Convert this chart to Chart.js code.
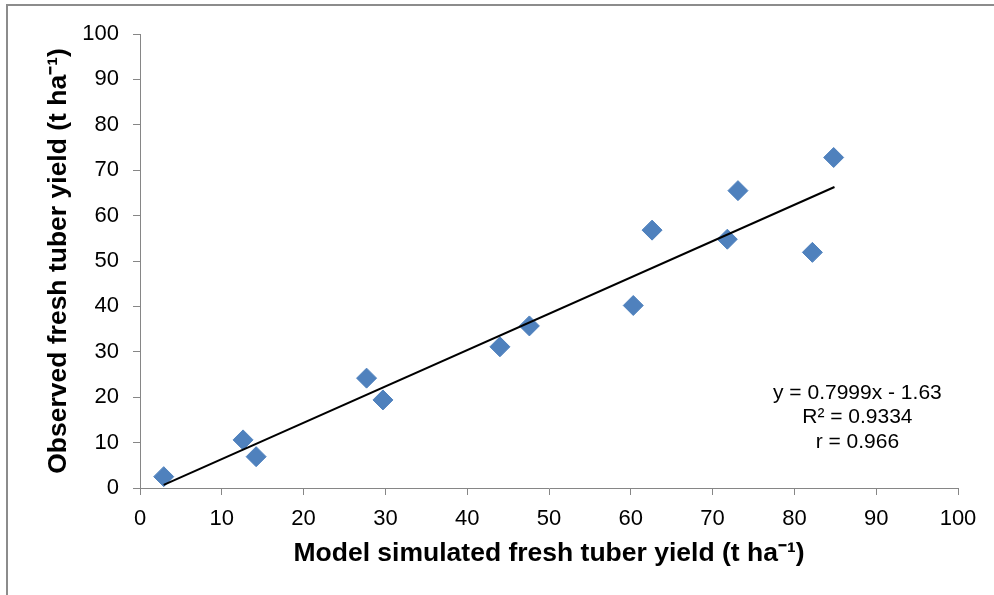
<!DOCTYPE html>
<html>
<head>
<meta charset="utf-8">
<title>Observed vs simulated fresh tuber yield</title>
<script src="https://cdn.jsdelivr.net/npm/chart.js@4.4.1/dist/chart.umd.min.js"></script>
<style>
  html, body { margin: 0; padding: 0; background: #fff; }
  #chart { display: block; }
</style>
</head>
<body>
<canvas id="chart" width="994" height="595"></canvas>
<script>
// simulated (x) and observed (y) fresh tuber yield, t/ha
var simulated = [2.9, 12.6, 14.2, 27.7, 29.7, 44.0, 47.6, 60.3, 62.6, 71.8, 73.1, 82.2, 84.8];
var observed  = [2.5, 10.6, 6.9, 24.2, 19.4, 31.1, 35.7, 40.2, 56.8, 54.8, 65.5, 51.9, 72.8];

// trendline end points as drawn in the figure
var trendX = [2.9, 84.9];
var trendY = [0.7, 66.3];

var xTicks = [0, 10, 20, 30, 40, 50, 60, 70, 80, 90, 100];
var yTicks = [0, 10, 20, 30, 40, 50, 60, 70, 80, 90, 100];

var statsLines = ['y = 0.7999x - 1.63', 'R\u00B2 = 0.9334', 'r = 0.966'];
var statsAt = { x: 87.7, y: 20.9 };

var FONT = "'Liberation Sans', Arial, sans-serif";
var AXIS_GREY = '#868686';

function points(xs, ys) {
    var out = [];
    for (var i = 0; i < xs.length; i++) {
        out.push({ x: xs[i], y: ys[i] });
    }
    return out;
}

// grey frame around the figure (only top and left edges are in view)
var framePlugin = {
    id: 'frame',
    beforeDraw: function (chart) {
        var ctx = chart.ctx;
        ctx.save();
        ctx.strokeStyle = '#8c8c8c';
        ctx.lineWidth = 2;
        ctx.beginPath();
        ctx.moveTo(7, chart.height);
        ctx.lineTo(7, 5);
        ctx.lineTo(chart.width, 5);
        ctx.stroke();
        ctx.restore();
    }
};

// regression text block
var statsPlugin = {
    id: 'stats',
    afterDatasetsDraw: function (chart) {
        var ctx = chart.ctx;
        var cx = chart.scales.x.getPixelForValue(statsAt.x);
        var cy = chart.scales.y.getPixelForValue(statsAt.y);
        ctx.save();
        ctx.font = '21px ' + FONT;
        ctx.fillStyle = '#000';
        ctx.textAlign = 'center';
        ctx.textBaseline = 'middle';
        for (var i = 0; i < statsLines.length; i++) {
            ctx.fillText(statsLines[i], cx, cy + i * 24.5);
        }
        ctx.restore();
    }
};

var chart = new Chart(document.getElementById('chart'), {
    type: 'scatter',
    data: {
        datasets: [
            {
                label: 'Observed',
                data: points(simulated, observed),
                pointStyle: 'rectRot',
                pointRadius: 10,
                pointHoverRadius: 10,
                backgroundColor: '#4F81BD',
                borderColor: '#4F81BD',
                borderWidth: 1,
                order: 2
            },
            {
                type: 'line',
                label: 'Linear',
                data: points(trendX, trendY),
                borderColor: '#000',
                borderWidth: 2,
                pointRadius: 0,
                fill: false,
                order: 1
            }
        ]
    },
    options: {
        responsive: false,
        animation: false,
        layout: { padding: { top: 34, right: 36, left: 0, bottom: 0 } },
        plugins: {
            legend: { display: false },
            tooltip: { enabled: false }
        },
        scales: {
            x: {
                type: 'linear',
                min: 0,
                max: 100,
                afterBuildTicks: function (axis) {
                    axis.ticks = xTicks.map(function (v) { return { value: v }; });
                },
                afterFit: function (axis) { axis.height = 107; },
                border: { color: AXIS_GREY, width: 1 },
                grid: { drawOnChartArea: false, color: AXIS_GREY, tickLength: 7 },
                ticks: { color: '#000', padding: 11, font: { family: FONT, size: 22 } },
                title: {
                    display: true,
                    text: 'Model simulated fresh tuber yield (t ha\u207B\u00B9)',
                    color: '#000',
                    font: { family: FONT, size: 26.5, weight: 'bold' },
                    padding: { top: 0, bottom: 25 }
                }
            },
            y: {
                type: 'linear',
                min: 0,
                max: 100,
                afterBuildTicks: function (axis) {
                    axis.ticks = yTicks.map(function (v) { return { value: v }; });
                },
                afterFit: function (axis) { axis.width = 140; },
                border: { color: AXIS_GREY, width: 1 },
                grid: { drawOnChartArea: false, color: AXIS_GREY, tickLength: 7 },
                ticks: { color: '#000', padding: 14, font: { family: FONT, size: 22 } },
                title: {
                    display: true,
                    text: 'Observed fresh tuber yield (t ha\u207B\u00B9)',
                    color: '#000',
                    font: { family: FONT, size: 26.5, weight: 'bold' },
                    padding: { top: 43, bottom: 0 }
                }
            }
        }
    },
    plugins: [framePlugin, statsPlugin]
});
</script>
</body>
</html>
